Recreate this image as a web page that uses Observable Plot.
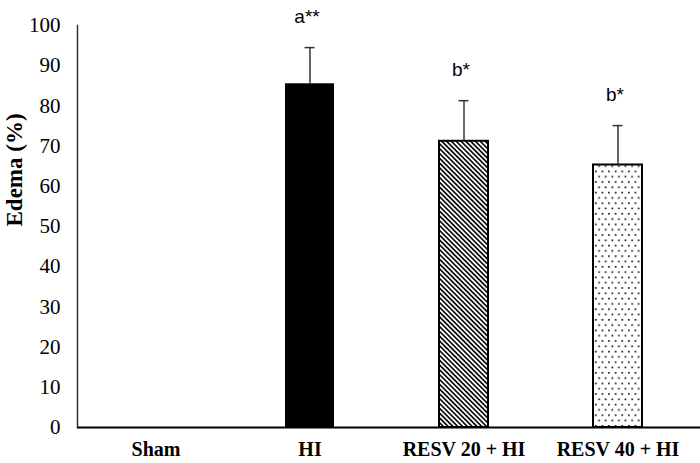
<!DOCTYPE html>
<html>
<head>
<meta charset="utf-8">
<script src="https://cdn.jsdelivr.net/npm/d3@7"></script>
<script src="https://cdn.jsdelivr.net/npm/@observablehq/plot@0.6"></script>
<style>
  html, body { margin: 0; padding: 0; background: #fff; }
</style>
</head>
<body>
<div id="chart"></div>
<script>
const groups = ["Sham", "HI", "RESV 20 + HI", "RESV 40 + HI"];
const means = [0, 85.5, 71.2, 65.3];
const errors = [0, 9.0, 10.1, 9.8];
const sigLabels = ["", "a**", "b*", "b*"];
const yTicks = [0, 10, 20, 30, 40, 50, 60, 70, 80, 90, 100];

const data = groups.map((g, i) => ({group: g, mean: means[i], err: errors[i], sig: sigLabels[i]}));

const patterns = () => {
  const defs = d3.create("svg:defs");
  const h = defs.append("pattern")
    .attr("id", "hatch").attr("patternUnits", "userSpaceOnUse")
    .attr("width", 3.4).attr("height", 3.4)
    .attr("patternTransform", "rotate(-45)");
  h.append("rect").attr("width", 3.4).attr("height", 3.4).attr("fill", "#fff");
  h.append("line").attr("x1", 1.7).attr("y1", 0).attr("x2", 1.7).attr("y2", 3.4)
    .attr("stroke", "#000").attr("stroke-width", 1.6);
  const d = defs.append("pattern")
    .attr("id", "dots").attr("patternUnits", "userSpaceOnUse")
    .attr("width", 6.6).attr("height", 10.6);
  d.append("rect").attr("width", 6.6).attr("height", 10.6).attr("fill", "#fff");
  d.append("rect").attr("x", 1).attr("y", 1).attr("width", 1.6).attr("height", 1.6).attr("fill", "#000");
  d.append("rect").attr("x", 4.3).attr("y", 6.3).attr("width", 1.6).attr("height", 1.6).attr("fill", "#000");
  return defs.node();
};

const serif = "'Liberation Serif', 'Times New Roman', serif";
const sans = "'Liberation Sans', Arial, sans-serif";

const chart = Plot.plot({
  width: 700,
  height: 463,
  marginLeft: 77,
  marginRight: 0,
  marginTop: 25,
  marginBottom: 36,
  style: {background: "#fff", color: "#000"},
  x: {domain: groups, paddingInner: 0.68, paddingOuter: 0.34, insetRight: 4.5, insetLeft: 0.5, label: null},
  y: {domain: [0, 100], label: null},
  marks: [
    patterns,
    Plot.barY(data, {filter: d => d.group === "HI", x: "group", y: "mean", fill: "#000"}),
    Plot.barY(data, {filter: d => d.group === "RESV 20 + HI", x: "group", y: "mean", fill: "url(#hatch)", stroke: "#000", strokeWidth: 2}),
    Plot.barY(data, {filter: d => d.group === "RESV 40 + HI", x: "group", y: "mean", fill: "url(#dots)", stroke: "#000", strokeWidth: 2}),
    Plot.ruleX(data, {filter: d => d.err > 0, x: "group", y1: "mean", y2: d => d.mean + d.err, stroke: "#333", strokeWidth: 1.5}),
    Plot.tickY(data, {filter: d => d.err > 0, x: "group", y: d => d.mean + d.err, stroke: "#333", strokeWidth: 1.5, insetLeft: 19.5, insetRight: 19.5}),
    Plot.text(data, {filter: d => d.sig, x: "group", y: d => d.mean + d.err, text: "sig", dy: -25, dx: -3, lineAnchor: "bottom", fontFamily: sans, fontSize: 19, fill: "#000"}),
    Plot.frame({anchor: "left", stroke: "#333", strokeWidth: 1.5}),
    Plot.ruleY([0], {stroke: "#000", strokeWidth: 2}),
    Plot.axisY({ticks: yTicks, tickSize: 0, tickPadding: 17, fontFamily: serif, fontSize: 21, label: null}),
    Plot.axisX({tickSize: 0, tickPadding: 14, fontFamily: serif, fontSize: 20, fontWeight: "bold", label: null}),
    Plot.text(["Edema (%)"], {frameAnchor: "left", rotate: -90, dx: -63, fontFamily: serif, fontSize: 23, fontWeight: "bold", fill: "#000"})
  ]
});
document.getElementById("chart").appendChild(chart);
</script>
</body>
</html>
